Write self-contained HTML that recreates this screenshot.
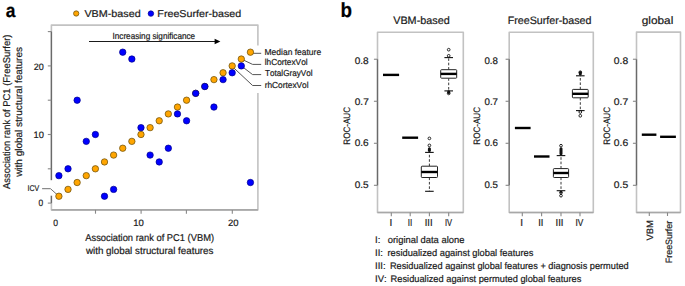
<!DOCTYPE html>
<html><head><meta charset="utf-8"><style>
html,body{margin:0;padding:0;background:#fff;width:685px;height:286px;overflow:hidden}
svg{display:block}
text{font-family:"Liberation Sans", sans-serif;font-kerning:none;text-rendering:geometricPrecision;stroke:currentColor;stroke-width:0.2px}
</style></head><body>
<svg width="685" height="286" viewBox="0 0 685 286">
<rect width="685" height="286" fill="#fff"/>
<text x="5.84" y="16.80" font-size="19.2" font-weight="bold" fill="#000" color="#000" textLength="9.70" lengthAdjust="spacingAndGlyphs">a</text>
<circle cx="76.20" cy="13.50" r="2.65" fill="#FFA500" stroke="#6e520f" stroke-width="0.75"/>
<text x="84.40" y="17.35" font-size="9.95" fill="#1a1a1a" color="#1a1a1a" textLength="56.34" lengthAdjust="spacingAndGlyphs">VBM-based</text>
<circle cx="150.90" cy="13.60" r="2.75" fill="#0000FF" stroke="#00008c" stroke-width="0.7"/>
<text x="157.37" y="17.35" font-size="9.95" fill="#1a1a1a" color="#1a1a1a" textLength="83.87" lengthAdjust="spacingAndGlyphs">FreeSurfer-based</text>
<rect x="51.4" y="25.1" width="206.49999999999997" height="184.8" fill="none" stroke="#c2c2c2" stroke-width="1.6" stroke-linejoin="round"/>
<line x1="51.4" y1="209.9" x2="257.9" y2="209.9" stroke="#a8a8a8" stroke-width="1.6"/>
<line x1="51.4" y1="31.5" x2="51.4" y2="203.1" stroke="#6a6a6a" stroke-width="1.3"/>
<line x1="47.8" y1="203.1" x2="51.4" y2="203.1" stroke="#888" stroke-width="1.1"/>
<line x1="47.8" y1="168.79999999999998" x2="51.4" y2="168.79999999999998" stroke="#888" stroke-width="1.1"/>
<line x1="47.8" y1="134.5" x2="51.4" y2="134.5" stroke="#888" stroke-width="1.1"/>
<line x1="47.8" y1="100.19999999999999" x2="51.4" y2="100.19999999999999" stroke="#888" stroke-width="1.1"/>
<line x1="47.8" y1="65.89999999999998" x2="51.4" y2="65.89999999999998" stroke="#888" stroke-width="1.1"/>
<line x1="47.8" y1="31.599999999999994" x2="51.4" y2="31.599999999999994" stroke="#888" stroke-width="1.1"/>
<line x1="95.5" y1="209.9" x2="95.5" y2="213.7" stroke="#888" stroke-width="1.1"/>
<line x1="141.1" y1="209.9" x2="141.1" y2="213.7" stroke="#888" stroke-width="1.1"/>
<line x1="186.4" y1="209.9" x2="186.4" y2="213.7" stroke="#888" stroke-width="1.1"/>
<line x1="232.3" y1="209.9" x2="232.3" y2="213.7" stroke="#888" stroke-width="1.1"/>
<text x="33.70" y="69.80" font-size="9.3" fill="#1a1a1a" color="#1a1a1a" textLength="10.00" lengthAdjust="spacingAndGlyphs">20</text>
<text x="33.54" y="138.20" font-size="9.3" fill="#1a1a1a" color="#1a1a1a" textLength="10.37" lengthAdjust="spacingAndGlyphs">10</text>
<text x="38.42" y="206.30" font-size="9.3" fill="#1a1a1a" color="#1a1a1a" textLength="4.65" lengthAdjust="spacingAndGlyphs">0</text>
<text x="53.21" y="225.70" font-size="9.3" fill="#1a1a1a" color="#1a1a1a" textLength="4.77" lengthAdjust="spacingAndGlyphs">0</text>
<text x="133.22" y="225.80" font-size="9.3" fill="#1a1a1a" color="#1a1a1a" textLength="10.60" lengthAdjust="spacingAndGlyphs">10</text>
<text x="228.07" y="225.90" font-size="9.3" fill="#1a1a1a" color="#1a1a1a" textLength="10.55" lengthAdjust="spacingAndGlyphs">20</text>
<text x="85.23" y="241.10" font-size="9.9" fill="#1a1a1a" color="#1a1a1a" textLength="128.90" lengthAdjust="spacingAndGlyphs">Association rank of PC1 (VBM)</text>
<text x="85.96" y="253.80" font-size="9.9" fill="#1a1a1a" color="#1a1a1a" textLength="127.54" lengthAdjust="spacingAndGlyphs">with global structural features</text>
<text transform="translate(10.20,188.95) rotate(-90)" x="-0.02" y="0" font-size="9.9" fill="#1a1a1a" color="#1a1a1a" textLength="154.40" lengthAdjust="spacingAndGlyphs">Association rank of PC1 (FreeSurfer)</text>
<text transform="translate(22.30,176.85) rotate(-90)" x="0.01" y="0" font-size="9.9" fill="#1a1a1a" color="#1a1a1a" textLength="129.85" lengthAdjust="spacingAndGlyphs">with global structural features</text>
<line x1="89.0" y1="41.5" x2="215.5" y2="41.5" stroke="#1a1a1a" stroke-width="1.2"/>
<polygon points="214.6,38.8 220.4,41.55 214.6,44.3" fill="#000"/>
<text x="112.50" y="39.00" font-size="8.9" fill="#1a1a1a" color="#1a1a1a" textLength="82.62" lengthAdjust="spacingAndGlyphs">Increasing significance</text>
<rect x="255.89999999999998" y="45.5" width="4" height="47.5" fill="#fff"/>
<rect x="49.4" y="180.2" width="4" height="15.5" fill="#fff"/>
<polyline points="250.0,53.3 261.2,53.3" fill="none" stroke="#555" stroke-width="1"/>
<polyline points="241.29999999999998,59.03999999999999 252.6,64.4 261.2,64.4" fill="none" stroke="#555" stroke-width="1"/>
<polyline points="241.29999999999998,65.89999999999998 252.6,74.6 261.2,74.6" fill="none" stroke="#555" stroke-width="1"/>
<polyline points="232.17999999999998,66.39999999999998 252.6,85.5 261.2,85.5" fill="none" stroke="#555" stroke-width="1"/>
<polyline points="42.1,188.7 50.5,188.7 58.9,196.23999999999998" fill="none" stroke="#707070" stroke-width="1"/>
<text x="264.55" y="54.90" font-size="8.7" fill="#1a1a1a" color="#1a1a1a" textLength="56.57" lengthAdjust="spacingAndGlyphs">Median feature</text>
<text x="264.69" y="65.20" font-size="8.7" fill="#1a1a1a" color="#1a1a1a" textLength="42.91" lengthAdjust="spacingAndGlyphs">lhCortexVol</text>
<text x="265.07" y="76.40" font-size="8.7" fill="#1a1a1a" color="#1a1a1a" textLength="47.53" lengthAdjust="spacingAndGlyphs">TotalGrayVol</text>
<text x="264.70" y="87.60" font-size="8.7" fill="#1a1a1a" color="#1a1a1a" textLength="43.91" lengthAdjust="spacingAndGlyphs">rhCortexVol</text>
<text x="27.60" y="191.20" font-size="8.3" fill="#1a1a1a" color="#1a1a1a" textLength="11.68" lengthAdjust="spacingAndGlyphs">ICV</text>
<circle cx="58.90" cy="196.24" r="3.2" fill="#FFA500" stroke="#6e520f" stroke-width="0.75"/>
<circle cx="68.02" cy="189.38" r="3.2" fill="#FFA500" stroke="#6e520f" stroke-width="0.75"/>
<circle cx="77.14" cy="182.52" r="3.2" fill="#FFA500" stroke="#6e520f" stroke-width="0.75"/>
<circle cx="86.26" cy="175.66" r="3.2" fill="#FFA500" stroke="#6e520f" stroke-width="0.75"/>
<circle cx="95.38" cy="168.80" r="3.2" fill="#FFA500" stroke="#6e520f" stroke-width="0.75"/>
<circle cx="104.50" cy="161.94" r="3.2" fill="#FFA500" stroke="#6e520f" stroke-width="0.75"/>
<circle cx="113.62" cy="155.08" r="3.2" fill="#FFA500" stroke="#6e520f" stroke-width="0.75"/>
<circle cx="122.74" cy="148.22" r="3.2" fill="#FFA500" stroke="#6e520f" stroke-width="0.75"/>
<circle cx="131.86" cy="141.36" r="3.2" fill="#FFA500" stroke="#6e520f" stroke-width="0.75"/>
<circle cx="140.98" cy="134.50" r="3.2" fill="#FFA500" stroke="#6e520f" stroke-width="0.75"/>
<circle cx="150.10" cy="127.64" r="3.2" fill="#FFA500" stroke="#6e520f" stroke-width="0.75"/>
<circle cx="159.22" cy="120.78" r="3.2" fill="#FFA500" stroke="#6e520f" stroke-width="0.75"/>
<circle cx="168.34" cy="113.92" r="3.2" fill="#FFA500" stroke="#6e520f" stroke-width="0.75"/>
<circle cx="177.46" cy="107.06" r="3.2" fill="#FFA500" stroke="#6e520f" stroke-width="0.75"/>
<circle cx="186.58" cy="100.20" r="3.2" fill="#FFA500" stroke="#6e520f" stroke-width="0.75"/>
<circle cx="195.70" cy="93.34" r="3.2" fill="#FFA500" stroke="#6e520f" stroke-width="0.75"/>
<circle cx="204.82" cy="86.48" r="3.2" fill="#FFA500" stroke="#6e520f" stroke-width="0.75"/>
<circle cx="213.94" cy="79.62" r="3.2" fill="#FFA500" stroke="#6e520f" stroke-width="0.75"/>
<circle cx="223.06" cy="72.76" r="3.2" fill="#FFA500" stroke="#6e520f" stroke-width="0.75"/>
<circle cx="232.18" cy="65.90" r="3.2" fill="#FFA500" stroke="#6e520f" stroke-width="0.75"/>
<circle cx="241.30" cy="59.04" r="3.2" fill="#FFA500" stroke="#6e520f" stroke-width="0.75"/>
<circle cx="250.42" cy="52.18" r="3.2" fill="#FFA500" stroke="#6e520f" stroke-width="0.75"/>
<circle cx="58.90" cy="175.66" r="3.2" fill="#0000FF" stroke="#00008c" stroke-width="0.7"/>
<circle cx="68.02" cy="168.80" r="3.2" fill="#0000FF" stroke="#00008c" stroke-width="0.7"/>
<circle cx="77.14" cy="100.20" r="3.2" fill="#0000FF" stroke="#00008c" stroke-width="0.7"/>
<circle cx="86.26" cy="141.36" r="3.2" fill="#0000FF" stroke="#00008c" stroke-width="0.7"/>
<circle cx="95.38" cy="134.50" r="3.2" fill="#0000FF" stroke="#00008c" stroke-width="0.7"/>
<circle cx="104.50" cy="196.24" r="3.2" fill="#0000FF" stroke="#00008c" stroke-width="0.7"/>
<circle cx="113.62" cy="189.38" r="3.2" fill="#0000FF" stroke="#00008c" stroke-width="0.7"/>
<circle cx="122.74" cy="52.18" r="3.2" fill="#0000FF" stroke="#00008c" stroke-width="0.7"/>
<circle cx="131.86" cy="59.04" r="3.2" fill="#0000FF" stroke="#00008c" stroke-width="0.7"/>
<circle cx="140.98" cy="127.64" r="3.2" fill="#0000FF" stroke="#00008c" stroke-width="0.7"/>
<circle cx="150.10" cy="155.08" r="3.2" fill="#0000FF" stroke="#00008c" stroke-width="0.7"/>
<circle cx="159.22" cy="161.94" r="3.2" fill="#0000FF" stroke="#00008c" stroke-width="0.7"/>
<circle cx="168.34" cy="148.22" r="3.2" fill="#0000FF" stroke="#00008c" stroke-width="0.7"/>
<circle cx="177.46" cy="113.92" r="3.2" fill="#0000FF" stroke="#00008c" stroke-width="0.7"/>
<circle cx="186.58" cy="120.78" r="3.2" fill="#0000FF" stroke="#00008c" stroke-width="0.7"/>
<circle cx="195.70" cy="93.34" r="3.2" fill="#0000FF" stroke="#00008c" stroke-width="0.7"/>
<circle cx="204.82" cy="86.48" r="3.2" fill="#0000FF" stroke="#00008c" stroke-width="0.7"/>
<circle cx="213.94" cy="107.06" r="3.2" fill="#0000FF" stroke="#00008c" stroke-width="0.7"/>
<circle cx="223.06" cy="79.62" r="3.2" fill="#0000FF" stroke="#00008c" stroke-width="0.7"/>
<circle cx="232.18" cy="72.76" r="3.2" fill="#0000FF" stroke="#00008c" stroke-width="0.7"/>
<circle cx="241.30" cy="65.90" r="3.2" fill="#0000FF" stroke="#00008c" stroke-width="0.7"/>
<circle cx="250.42" cy="182.52" r="3.2" fill="#0000FF" stroke="#00008c" stroke-width="0.7"/>
<text x="340.51" y="16.70" font-size="20.5" font-weight="bold" fill="#000" color="#000" textLength="11.52" lengthAdjust="spacingAndGlyphs">b</text>
<rect x="377.5" y="32.2" width="85.80000000000001" height="180.3" fill="none" stroke="#c2c2c2" stroke-width="1.6" stroke-linejoin="round"/>
<line x1="377.5" y1="212.5" x2="463.3" y2="212.5" stroke="#a8a8a8" stroke-width="1.6"/>
<line x1="377.5" y1="59.25" x2="377.5" y2="185.31" stroke="#6a6a6a" stroke-width="1.3"/>
<text x="393.20" y="23.60" font-size="10.75" fill="#1a1a1a" color="#1a1a1a" textLength="56.55" lengthAdjust="spacingAndGlyphs">VBM-based</text>
<line x1="373.9" y1="59.25" x2="377.5" y2="59.25" stroke="#888" stroke-width="1.1"/>
<text x="354.76" y="63.90" font-size="9.6" fill="#1a1a1a" color="#1a1a1a" textLength="13.93" lengthAdjust="spacingAndGlyphs">0.8</text>
<line x1="373.9" y1="101.27000000000004" x2="377.5" y2="101.27000000000004" stroke="#888" stroke-width="1.1"/>
<text x="354.76" y="104.80" font-size="9.6" fill="#1a1a1a" color="#1a1a1a" textLength="14.00" lengthAdjust="spacingAndGlyphs">0.7</text>
<line x1="373.9" y1="143.29000000000002" x2="377.5" y2="143.29000000000002" stroke="#888" stroke-width="1.1"/>
<text x="354.76" y="145.90" font-size="9.6" fill="#1a1a1a" color="#1a1a1a" textLength="13.93" lengthAdjust="spacingAndGlyphs">0.6</text>
<line x1="373.9" y1="185.31" x2="377.5" y2="185.31" stroke="#888" stroke-width="1.1"/>
<text x="354.76" y="188.10" font-size="9.6" fill="#1a1a1a" color="#1a1a1a" textLength="13.91" lengthAdjust="spacingAndGlyphs">0.5</text>
<text transform="translate(349.80,144.05) rotate(-90)" x="-0.66" y="0" font-size="9.3" fill="#1a1a1a" color="#1a1a1a" textLength="37.77" lengthAdjust="spacingAndGlyphs">ROC-AUC</text>
<line x1="391.3" y1="212.5" x2="391.3" y2="216.2" stroke="#888" stroke-width="1.1"/>
<line x1="410.2" y1="212.5" x2="410.2" y2="216.2" stroke="#888" stroke-width="1.1"/>
<line x1="429.4" y1="212.5" x2="429.4" y2="216.2" stroke="#888" stroke-width="1.1"/>
<line x1="448.7" y1="212.5" x2="448.7" y2="216.2" stroke="#888" stroke-width="1.1"/>
<line x1="383.0" y1="74.9" x2="399.1" y2="74.9" stroke="#000" stroke-width="2.4"/>
<line x1="402.2" y1="137.7" x2="418.1" y2="137.7" stroke="#000" stroke-width="2.4"/>
<line x1="429.4" y1="166.2" x2="429.4" y2="152.4" stroke="#222" stroke-width="0.9" stroke-dasharray="2.6,1.8"/>
<line x1="429.4" y1="177.5" x2="429.4" y2="191.3" stroke="#222" stroke-width="0.9" stroke-dasharray="2.6,1.8"/>
<line x1="425.09999999999997" y1="152.4" x2="433.7" y2="152.4" stroke="#111" stroke-width="1.1"/>
<line x1="425.09999999999997" y1="191.3" x2="433.7" y2="191.3" stroke="#111" stroke-width="1.1"/>
<rect x="421.30" y="166.20" width="16.20" height="11.30" rx="0.8" fill="#fff" stroke="#222" stroke-width="1"/>
<line x1="421.29999999999995" y1="172.0" x2="437.5" y2="172.0" stroke="#000" stroke-width="2.4"/>
<rect x="427.90" y="147.30" width="3" height="4.70" rx="1.5" fill="#111"/>
<circle cx="429.40" cy="138.40" r="1.35" fill="none" stroke="#111" stroke-width="0.9"/>
<circle cx="429.40" cy="145.40" r="1.35" fill="none" stroke="#111" stroke-width="0.9"/>
<line x1="448.7" y1="69.7" x2="448.7" y2="57.6" stroke="#222" stroke-width="0.9" stroke-dasharray="2.6,1.8"/>
<line x1="448.7" y1="78.2" x2="448.7" y2="90.9" stroke="#222" stroke-width="0.9" stroke-dasharray="2.6,1.8"/>
<line x1="444.4" y1="57.6" x2="453.0" y2="57.6" stroke="#111" stroke-width="1.1"/>
<line x1="444.4" y1="90.9" x2="453.0" y2="90.9" stroke="#111" stroke-width="1.1"/>
<rect x="440.70" y="69.70" width="16.00" height="8.50" rx="0.8" fill="#fff" stroke="#222" stroke-width="1"/>
<line x1="440.7" y1="73.9" x2="456.7" y2="73.9" stroke="#000" stroke-width="2.4"/>
<rect x="447.20" y="90.20" width="3" height="3.80" rx="1.5" fill="#111"/>
<circle cx="448.70" cy="49.70" r="1.35" fill="none" stroke="#111" stroke-width="0.9"/>
<circle cx="448.70" cy="55.80" r="1.35" fill="none" stroke="#111" stroke-width="0.9"/>
<circle cx="448.70" cy="93.40" r="1.35" fill="none" stroke="#111" stroke-width="0.9"/>
<rect x="509.2" y="32.2" width="84.09999999999997" height="180.3" fill="none" stroke="#c2c2c2" stroke-width="1.6" stroke-linejoin="round"/>
<line x1="509.2" y1="212.5" x2="593.3" y2="212.5" stroke="#a8a8a8" stroke-width="1.6"/>
<line x1="509.2" y1="59.25" x2="509.2" y2="185.31" stroke="#6a6a6a" stroke-width="1.3"/>
<text x="507.67" y="23.60" font-size="10.75" fill="#1a1a1a" color="#1a1a1a" textLength="83.87" lengthAdjust="spacingAndGlyphs">FreeSurfer-based</text>
<line x1="505.59999999999997" y1="59.25" x2="509.2" y2="59.25" stroke="#888" stroke-width="1.1"/>
<text x="484.47" y="63.90" font-size="9.6" fill="#1a1a1a" color="#1a1a1a" textLength="13.50" lengthAdjust="spacingAndGlyphs">0.8</text>
<line x1="505.59999999999997" y1="101.27000000000004" x2="509.2" y2="101.27000000000004" stroke="#888" stroke-width="1.1"/>
<text x="484.47" y="104.80" font-size="9.6" fill="#1a1a1a" color="#1a1a1a" textLength="13.57" lengthAdjust="spacingAndGlyphs">0.7</text>
<line x1="505.59999999999997" y1="143.29000000000002" x2="509.2" y2="143.29000000000002" stroke="#888" stroke-width="1.1"/>
<text x="484.47" y="145.90" font-size="9.6" fill="#1a1a1a" color="#1a1a1a" textLength="13.51" lengthAdjust="spacingAndGlyphs">0.6</text>
<line x1="505.59999999999997" y1="185.31" x2="509.2" y2="185.31" stroke="#888" stroke-width="1.1"/>
<text x="484.47" y="188.10" font-size="9.6" fill="#1a1a1a" color="#1a1a1a" textLength="13.49" lengthAdjust="spacingAndGlyphs">0.5</text>
<text transform="translate(479.50,144.05) rotate(-90)" x="-0.66" y="0" font-size="9.3" fill="#1a1a1a" color="#1a1a1a" textLength="37.77" lengthAdjust="spacingAndGlyphs">ROC-AUC</text>
<line x1="522.3" y1="212.5" x2="522.3" y2="216.2" stroke="#888" stroke-width="1.1"/>
<line x1="541.6" y1="212.5" x2="541.6" y2="216.2" stroke="#888" stroke-width="1.1"/>
<line x1="561.0" y1="212.5" x2="561.0" y2="216.2" stroke="#888" stroke-width="1.1"/>
<line x1="580.0" y1="212.5" x2="580.0" y2="216.2" stroke="#888" stroke-width="1.1"/>
<line x1="514.9" y1="128.0" x2="530.6" y2="128.0" stroke="#000" stroke-width="2.4"/>
<line x1="534.0" y1="156.5" x2="549.5" y2="156.5" stroke="#000" stroke-width="2.4"/>
<line x1="561.0" y1="168.6" x2="561.0" y2="155.6" stroke="#222" stroke-width="0.9" stroke-dasharray="2.6,1.8"/>
<line x1="561.0" y1="177.5" x2="561.0" y2="190.7" stroke="#222" stroke-width="0.9" stroke-dasharray="2.6,1.8"/>
<line x1="556.7" y1="155.6" x2="565.3" y2="155.6" stroke="#111" stroke-width="1.1"/>
<line x1="556.7" y1="190.7" x2="565.3" y2="190.7" stroke="#111" stroke-width="1.1"/>
<rect x="553.40" y="168.60" width="15.20" height="8.90" rx="0.8" fill="#fff" stroke="#222" stroke-width="1"/>
<line x1="553.4" y1="173.0" x2="568.6" y2="173.0" stroke="#000" stroke-width="2.4"/>
<rect x="559.50" y="147.20" width="3" height="8.10" rx="1.5" fill="#111"/>
<rect x="559.50" y="191.00" width="3" height="2.00" rx="1.5" fill="#111"/>
<circle cx="561.00" cy="145.70" r="1.35" fill="none" stroke="#111" stroke-width="0.9"/>
<circle cx="561.00" cy="192.70" r="1.35" fill="none" stroke="#111" stroke-width="0.9"/>
<circle cx="561.00" cy="195.70" r="1.35" fill="none" stroke="#111" stroke-width="0.9"/>
<line x1="580.3" y1="89.4" x2="580.3" y2="75.8" stroke="#222" stroke-width="0.9" stroke-dasharray="2.6,1.8"/>
<line x1="580.3" y1="97.8" x2="580.3" y2="110.6" stroke="#222" stroke-width="0.9" stroke-dasharray="2.6,1.8"/>
<line x1="576.0" y1="75.8" x2="584.5999999999999" y2="75.8" stroke="#111" stroke-width="1.1"/>
<line x1="576.0" y1="110.6" x2="584.5999999999999" y2="110.6" stroke="#111" stroke-width="1.1"/>
<rect x="572.40" y="89.40" width="15.80" height="8.40" rx="0.8" fill="#fff" stroke="#222" stroke-width="1"/>
<line x1="572.4" y1="93.8" x2="588.1999999999999" y2="93.8" stroke="#000" stroke-width="2.4"/>
<rect x="578.80" y="71.00" width="3" height="4.60" rx="1.5" fill="#111"/>
<circle cx="580.30" cy="72.20" r="1.35" fill="none" stroke="#111" stroke-width="0.9"/>
<circle cx="580.30" cy="112.00" r="1.35" fill="none" stroke="#111" stroke-width="0.9"/>
<circle cx="580.30" cy="115.80" r="1.35" fill="none" stroke="#111" stroke-width="0.9"/>
<rect x="636.5" y="32.1" width="44.0" height="180.4" fill="none" stroke="#c2c2c2" stroke-width="1.6" stroke-linejoin="round"/>
<line x1="636.5" y1="212.5" x2="680.5" y2="212.5" stroke="#a8a8a8" stroke-width="1.6"/>
<line x1="636.5" y1="59.25" x2="636.5" y2="185.31" stroke="#6a6a6a" stroke-width="1.3"/>
<text x="641.75" y="23.60" font-size="10.75" fill="#1a1a1a" color="#1a1a1a" textLength="31.59" lengthAdjust="spacingAndGlyphs">global</text>
<line x1="632.9" y1="59.25" x2="636.5" y2="59.25" stroke="#888" stroke-width="1.1"/>
<text x="613.85" y="63.90" font-size="9.6" fill="#1a1a1a" color="#1a1a1a" textLength="14.35" lengthAdjust="spacingAndGlyphs">0.8</text>
<line x1="632.9" y1="101.27000000000004" x2="636.5" y2="101.27000000000004" stroke="#888" stroke-width="1.1"/>
<text x="613.84" y="104.80" font-size="9.6" fill="#1a1a1a" color="#1a1a1a" textLength="14.43" lengthAdjust="spacingAndGlyphs">0.7</text>
<line x1="632.9" y1="143.29000000000002" x2="636.5" y2="143.29000000000002" stroke="#888" stroke-width="1.1"/>
<text x="613.85" y="145.90" font-size="9.6" fill="#1a1a1a" color="#1a1a1a" textLength="14.36" lengthAdjust="spacingAndGlyphs">0.6</text>
<line x1="632.9" y1="185.31" x2="636.5" y2="185.31" stroke="#888" stroke-width="1.1"/>
<text x="613.85" y="188.10" font-size="9.6" fill="#1a1a1a" color="#1a1a1a" textLength="14.34" lengthAdjust="spacingAndGlyphs">0.5</text>
<text transform="translate(609.50,144.05) rotate(-90)" x="-0.66" y="0" font-size="9.3" fill="#1a1a1a" color="#1a1a1a" textLength="37.77" lengthAdjust="spacingAndGlyphs">ROC-AUC</text>
<line x1="649.3" y1="212.5" x2="649.3" y2="216.0" stroke="#888" stroke-width="1.1"/>
<line x1="667.5" y1="212.5" x2="667.5" y2="216.0" stroke="#888" stroke-width="1.1"/>
<line x1="641.8" y1="134.7" x2="656.4" y2="134.7" stroke="#000" stroke-width="2.4"/>
<line x1="660.1" y1="136.8" x2="675.9" y2="136.8" stroke="#000" stroke-width="2.4"/>
<text transform="translate(652.80,240.45) rotate(-90)" x="-0.04" y="0" font-size="9.2" fill="#1a1a1a" color="#1a1a1a" textLength="20.31" lengthAdjust="spacingAndGlyphs">VBM</text>
<text transform="translate(671.70,262.45) rotate(-90)" x="-0.73" y="0" font-size="9.2" fill="#1a1a1a" color="#1a1a1a" textLength="42.37" lengthAdjust="spacingAndGlyphs">FreeSurfer</text>
<text x="390.80" y="225.90" font-size="10.0" text-anchor="middle" fill="#1a1a1a" color="#1a1a1a">I</text>
<text x="407.65" y="225.90" font-size="10.0" fill="#1a1a1a" color="#1a1a1a" textLength="4.49" lengthAdjust="spacingAndGlyphs">II</text>
<text x="424.73" y="225.90" font-size="10.0" fill="#1a1a1a" color="#1a1a1a" textLength="7.83" lengthAdjust="spacingAndGlyphs">III</text>
<text x="445.00" y="225.90" font-size="10.0" fill="#1a1a1a" color="#1a1a1a" textLength="7.13" lengthAdjust="spacingAndGlyphs">IV</text>
<text x="521.70" y="225.90" font-size="10.0" text-anchor="middle" fill="#1a1a1a" color="#1a1a1a">I</text>
<text x="538.13" y="225.90" font-size="10.0" fill="#1a1a1a" color="#1a1a1a" textLength="5.24" lengthAdjust="spacingAndGlyphs">II</text>
<text x="555.52" y="225.90" font-size="10.0" fill="#1a1a1a" color="#1a1a1a" textLength="7.96" lengthAdjust="spacingAndGlyphs">III</text>
<text x="575.54" y="225.90" font-size="10.0" fill="#1a1a1a" color="#1a1a1a" textLength="7.80" lengthAdjust="spacingAndGlyphs">IV</text>
<text x="375.00" y="242.90" font-size="9.5" fill="#1a1a1a" color="#1a1a1a">I:</text>
<text x="387.76" y="242.90" font-size="9.5" fill="#1a1a1a" color="#1a1a1a" textLength="76.61" lengthAdjust="spacingAndGlyphs">original data alone</text>
<text x="375.00" y="256.00" font-size="9.5" fill="#1a1a1a" color="#1a1a1a">II:</text>
<text x="387.53" y="256.00" font-size="9.5" fill="#1a1a1a" color="#1a1a1a" textLength="145.85" lengthAdjust="spacingAndGlyphs">residualized against global features</text>
<text x="375.00" y="269.20" font-size="9.5" fill="#1a1a1a" color="#1a1a1a">III:</text>
<text x="389.89" y="269.20" font-size="9.5" fill="#1a1a1a" color="#1a1a1a" textLength="238.85" lengthAdjust="spacingAndGlyphs">Residualized against global features + diagnosis permuted</text>
<text x="375.00" y="282.20" font-size="9.5" fill="#1a1a1a" color="#1a1a1a">IV:</text>
<text x="390.59" y="282.20" font-size="9.5" fill="#1a1a1a" color="#1a1a1a" textLength="190.70" lengthAdjust="spacingAndGlyphs">Residualized against permuted global features</text>
</svg>
</body></html>
